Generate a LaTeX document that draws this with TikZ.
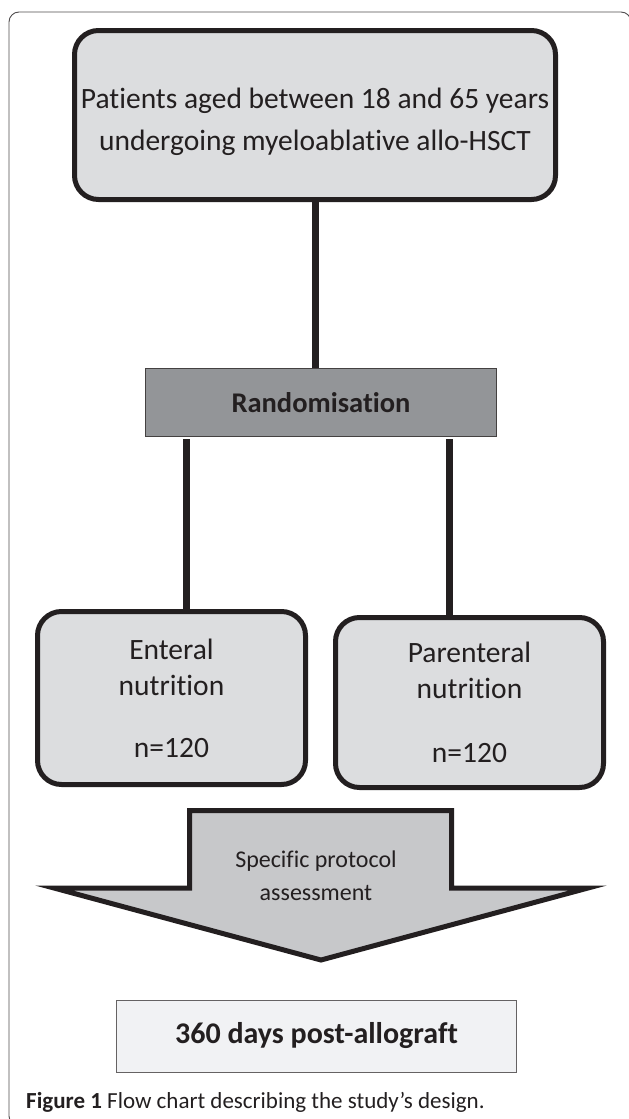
\documentclass[tikz,border=0pt]{standalone}
\usepackage{fontspec}
\setmainfont{Carlito}[Ligatures=NoCommon]
\usetikzlibrary{positioning}

\definecolor{ink}{HTML}{231F20}
\definecolor{boxgray}{HTML}{DCDDDF}
\definecolor{randgray}{HTML}{939598}
\definecolor{arrowgray}{HTML}{C7C8CA}
\definecolor{endgray}{HTML}{F1F2F4}

\begin{document}
\begin{tikzpicture}[
    x=1pt, y=-1pt,
    roundbox/.style={rectangle, rounded corners=24pt, draw=ink, line width=5pt, fill=boxgray, align=center, font={\fontsize{29.5}{36}\selectfont}, text=ink},
    flatbox/.style={rectangle, draw=ink!85, line width=1pt, align=center, font={\bfseries\fontsize{28.5}{32}\selectfont}, text=ink},
    link/.style={line width=7pt, draw=ink}
]
\useasboundingbox (0,0) rectangle (629,1119);

% Frame
\draw[line width=0.9pt, draw=ink!80, rounded corners=10pt] (9,12) rectangle (631,1126);

% Nodes
\node[roundbox, minimum width=481pt, minimum height=169pt, font={\fontsize{29.5}{42}\selectfont}] (patients) at (315,115)
    {\rule{0pt}{34pt}Patients aged between 18 and 65 years\\undergoing myeloablative allo-HSCT};
\node[flatbox, fill=randgray, minimum width=351pt, minimum height=68pt] (random) at (321,402.5) {Randomisation};
\node[roundbox, minimum width=268pt, minimum height=173pt] (enteral) at (171.5,698) {Enteral\\nutrition\\[26pt]n=120};
\node[roundbox, minimum width=268pt, minimum height=170pt] (parenteral) at (469.5,702.5) {Parenteral\\nutrition\\[28pt]n=120};
\node[flatbox, fill=endgray, draw=ink!70, minimum width=400pt, minimum height=72pt, font={\bfseries\fontsize{30}{36}\selectfont}] (final) at (316.5,1036) {360 days post-allograft};
\coordinate (splitL) at (186.5,439);
\coordinate (splitR) at (449.5,439);

% Arrow shape
\draw[fill=arrowgray, draw=ink, line width=5pt, line join=miter]
    (189.5,810.5) -- (451.5,810.5) -- (451.5,888) -- (588,888) -- (321,960)
    -- (54,888) -- (189.5,888) -- cycle;
\node[align=center, font={\fontsize{24}{33}\selectfont}, text=ink] (protocol) at (316,876) {Specific protocol\\assessment};

% Caption
\node[anchor=west, inner sep=0pt, font={\fontsize{23}{26}\selectfont}, text=ink] (caption) at (26,1102)
    {\textbf{Figure 1} Flow chart describing the study’s design.};

% Lines
\draw[link] (patients.south) -- (patients.south |- random.north);
\draw[link] (splitL) -- (splitL |- enteral.north);
\draw[link] (splitR) -- (splitR |- parenteral.north);

\end{tikzpicture}
\end{document}
